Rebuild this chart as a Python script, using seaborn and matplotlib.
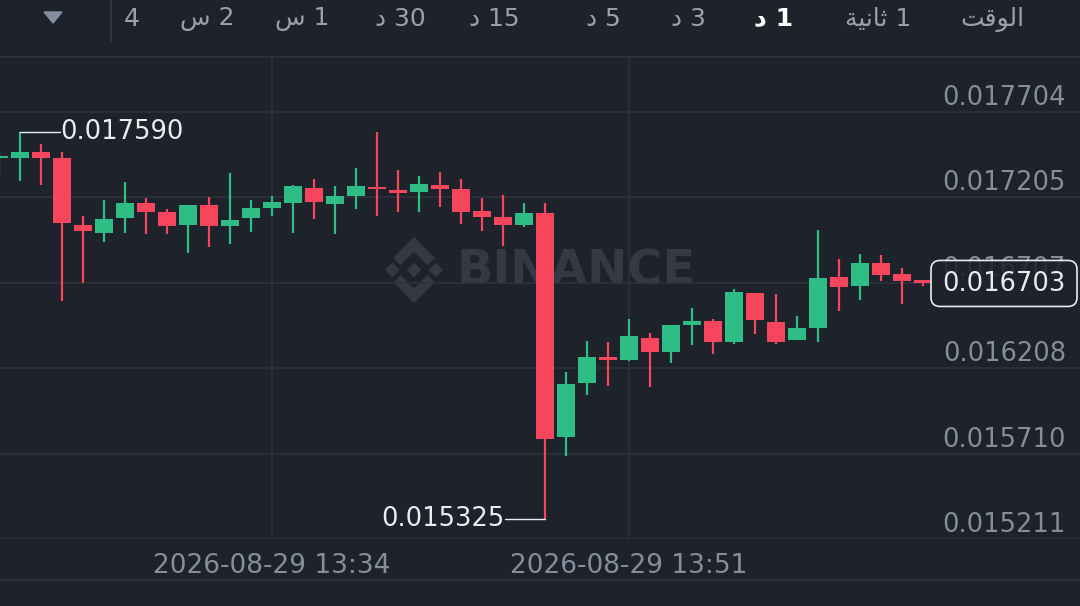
import numpy as np
import pandas as pd
import matplotlib
matplotlib.use("Agg")
import matplotlib.pyplot as plt
import matplotlib.transforms as mtransforms
from matplotlib.patches import FancyBboxPatch, Polygon
import seaborn as sns

# ---------------- data ----------------
times = pd.date_range("2026-08-29 13:21", periods=45, freq="min")
opens = [0.017436, 0.017438, 0.017473, 0.017434, 0.017043, 0.017000, 0.017088, 0.017172, 0.017121,
         0.017043, 0.017160, 0.017039, 0.017084, 0.017143, 0.017173, 0.017261, 0.017169, 0.017214,
         0.017269, 0.017251, 0.017236, 0.017277, 0.017257, 0.017127, 0.017092, 0.017047, 0.017117,
         0.015805, 0.016124, 0.016271, 0.016258, 0.016386, 0.016301, 0.016458, 0.016485, 0.016361,
         0.016647, 0.016476, 0.016371, 0.016445, 0.016740, 0.016691, 0.016825, 0.016758, 0.016724]
highs = [0.017482, 0.017590, 0.017517, 0.017469, 0.017099, 0.017191, 0.017298, 0.017201, 0.017137,
         0.017162, 0.017207, 0.017347, 0.017191, 0.017214, 0.017278, 0.017313, 0.017273, 0.017379,
         0.017586, 0.017366, 0.017331, 0.017354, 0.017313, 0.017201, 0.017220, 0.017172, 0.017175,
         0.016184, 0.016367, 0.016363, 0.016495, 0.016414, 0.016458, 0.016557, 0.016493, 0.016670,
         0.016647, 0.016643, 0.016511, 0.017014, 0.016845, 0.016874, 0.016872, 0.016793, 0.016724]
lows = [0.017331, 0.017302, 0.017278, 0.016598, 0.016705, 0.016944, 0.017000, 0.016994, 0.016991,
        0.016880, 0.016913, 0.016936, 0.017003, 0.017099, 0.017000, 0.017082, 0.016991, 0.017140,
        0.017099, 0.017123, 0.017123, 0.017152, 0.017051, 0.017012, 0.016919, 0.017035, 0.015325,
        0.015698, 0.016054, 0.016102, 0.016248, 0.016099, 0.016239, 0.016341, 0.016289, 0.016350,
        0.016406, 0.016347, 0.016371, 0.016359, 0.016544, 0.016606, 0.016719, 0.016583, 0.016691]
closes = [0.017447, 0.017473, 0.017434, 0.017055, 0.017012, 0.017082, 0.017172, 0.017121, 0.017041,
          0.017160, 0.017038, 0.017074, 0.017143, 0.017179, 0.017273, 0.017181, 0.017214, 0.017271,
          0.017255, 0.017232, 0.017282, 0.017255, 0.017123, 0.017092, 0.017047, 0.017117, 0.015796,
          0.016118, 0.016276, 0.016256, 0.016398, 0.016301, 0.016458, 0.016484, 0.016359, 0.016656,
          0.016490, 0.016363, 0.016443, 0.016734, 0.016684, 0.016825, 0.016752, 0.016720, 0.016703]

ytick_values = [0.017704, 0.017205, 0.016707, 0.016208, 0.015710, 0.015211]
ytick_labels = ["0.017704", "0.017205", "0.016707", "0.016208", "0.015710", "0.015211"]
xtick_labels = ["2026-08-29 13:34", "2026-08-29 13:51"]

high_label = "0.017590"
low_label = "0.015325"
last_label = "0.016703"

AR_D = "\uFEA9"
AR_S = "\uFEB1"
AR_SEC = "\uFE94\uFEF4\uFEE7\uFE8E\uFE9B"
AR_TIME = "\uFE96\uFED7\uFEEE\uFEDF\uFE8D"
tab_labels = ["4", AR_S + " 2", AR_S + " 1", AR_D + " 30", AR_D + " 15",
              AR_D + " 5", AR_D + " 3", AR_D + " 1", AR_SEC + " 1", AR_TIME]

# ---------------- style ----------------
BG = "#1E222A"
GRID = "#2C313A"
GREEN = "#2EBD85"
RED = "#F6465D"
GRAY = "#848E9C"
TAB = "#9BA1AA"
WHITE = "#EAECEF"
FS = 18.5

sns.set_theme(style="dark")
plt.rcParams["font.family"] = ["DejaVu Sans"]
plt.rcParams["figure.facecolor"] = BG
plt.rcParams["axes.facecolor"] = BG

df = pd.DataFrame({"time": times, "open": opens, "high": highs, "low": lows, "close": closes})
df["idx"] = np.arange(len(df))
df["up"] = df["close"] >= df["open"]
df["color"] = np.where(df["up"], GREEN, RED)

W, H = 1080, 606
fig = plt.figure(figsize=(W / 100, H / 100), dpi=100)
fig.patch.set_facecolor(BG)

# background overlay (header, watermark)
bg = fig.add_axes([0, 0, 1, 1], zorder=0)
bg.set_xlim(0, W)
bg.set_ylim(H, 0)
bg.axis("off")

# main chart axes: px y 57..539
top_px, bot_px = 57, 539
ax = fig.add_axes([0, (H - bot_px) / H, 1, (bot_px - top_px) / H], zorder=1)
ax.set_facecolor("none")

per_px = (ytick_values[0] - ytick_values[-1]) / (bot_px - 112)
ax.set_ylim(ytick_values[-1], ytick_values[0] + (112 - top_px) * per_px)
ax.set_xlim(1 / 21, (W + 1) / 21)

for s in ax.spines.values():
    s.set_visible(False)
ax.spines["top"].set_visible(True)
ax.spines["top"].set_color(GRID)
ax.set_xticks([])
ax.set_yticks([])
ax.grid(False)

for v in ytick_values:
    ax.axhline(v, color=GRID, lw=1.2, zorder=0)
time_strs = df["time"].dt.strftime("%Y-%m-%d %H:%M").tolist()
xt_idx = [time_strs.index(t) for t in xtick_labels]
for xi in xt_idx:
    ax.axvline(xi, color=GRID, lw=1.2, zorder=0)

# candles
body_min = 1.6 * per_px
heights = np.maximum((df["close"] - df["open"]).abs(), body_min)
bottoms = np.minimum(df["open"], df["close"])
ax.vlines(df["idx"], df["low"], df["high"], colors=df["color"], lw=1.6, zorder=2)
ax.bar(df["idx"], heights, bottom=bottoms, width=0.86, color=df["color"], linewidth=0, zorder=3)

# y labels
blend = mtransforms.blended_transform_factory(ax.transAxes, ax.transData)
for v, lab in zip(ytick_values, ytick_labels):
    ax.text(1066 / W, v + 1.0 * per_px, lab, transform=blend, ha="right", va="bottom",
            color=GRAY, fontsize=FS, zorder=1)

# x labels
for xi, lab in zip(xt_idx, xtick_labels):
    ax.text(xi, -0.055, lab, transform=mtransforms.blended_transform_factory(ax.transData, ax.transAxes),
            ha="center", va="center", color=GRAY, fontsize=19, clip_on=False)

# high / low annotations
hi_i = int(np.argmax(df["high"]))
lo_i = int(np.argmin(df["low"]))
off = 40 / 21
ax.plot([hi_i, hi_i + off], [highs[hi_i]] * 2, color=WHITE, lw=1.0, zorder=4)
ax.text(hi_i + off + 0.02, highs[hi_i], high_label, ha="left", va="center", color=WHITE,
        fontsize=FS, zorder=4)
ax.plot([lo_i, lo_i - off], [lows[lo_i]] * 2, color=WHITE, lw=1.0, zorder=4)
ax.text(lo_i - off - 0.02, lows[lo_i], low_label, ha="right", va="center", color=WHITE,
        fontsize=FS, zorder=4)

# header
bg.axhline(top_px, color=GRID, lw=1.2)
bg.axhline(580, color=GRID, lw=1.2)
bg.plot([111, 111], [0, 42], color="#353A44", lw=1.2)
bg.add_patch(Polygon([[44, 12], [62, 12], [53, 23]], closed=True, color=GRAY))
tab_x = [132, 207, 302, 400, 494, 603, 688, 774, 878, 992]
for lab, x in zip(tab_labels, tab_x):
    sel = lab == AR_D + " 1"
    bg.text(x, 19, lab, ha="center", va="center", fontsize=18,
            color="#FFFFFF" if sel else TAB, fontweight="bold" if sel else "normal")

# watermark
WM = "#343943"
cx, cy, r = 414, 270, 32
def P(pts):
    return [[cx + px * r, cy - py * r] for px, py in pts]
for dx in (-0.68, 0.0, 0.68):
    bg.add_patch(Polygon(P([(dx, 0.2), (dx + 0.2, 0), (dx, -0.2), (dx - 0.2, 0)]), color=WM))
chev = [(0, 1.0), (0.62, 0.38), (0.42, 0.18), (0, 0.6), (-0.42, 0.18), (-0.62, 0.38)]
bg.add_patch(Polygon(P(chev), color=WM))
bg.add_patch(Polygon(P([(x, -y) for x, y in chev]), color=WM))
bg.text(576, 271, "BINANCE", ha="center", va="center", fontsize=34.5, fontweight="bold", color=WM)

# last price box (top overlay)
top = fig.add_axes([0, 0, 1, 1], zorder=5)
top.set_xlim(0, W)
top.set_ylim(H, 0)
top.axis("off")
fig.canvas.draw()
y_last = H - ax.transData.transform((0, closes[-1]))[1]
bw, bh = 146, 46
top.add_patch(FancyBboxPatch((931, y_last - bh / 2), bw, bh, boxstyle="round,pad=0,rounding_size=9",
                             facecolor=BG, alpha=0.88, edgecolor="none"))
top.add_patch(FancyBboxPatch((931, y_last - bh / 2), bw, bh, boxstyle="round,pad=0,rounding_size=9",
                             facecolor="none", edgecolor=WHITE, lw=1.2))
top.text(931 + bw / 2, y_last + 1, last_label, ha="center", va="center", color=WHITE, fontsize=FS)

fig.savefig("out.png", dpi=100, facecolor=BG)
